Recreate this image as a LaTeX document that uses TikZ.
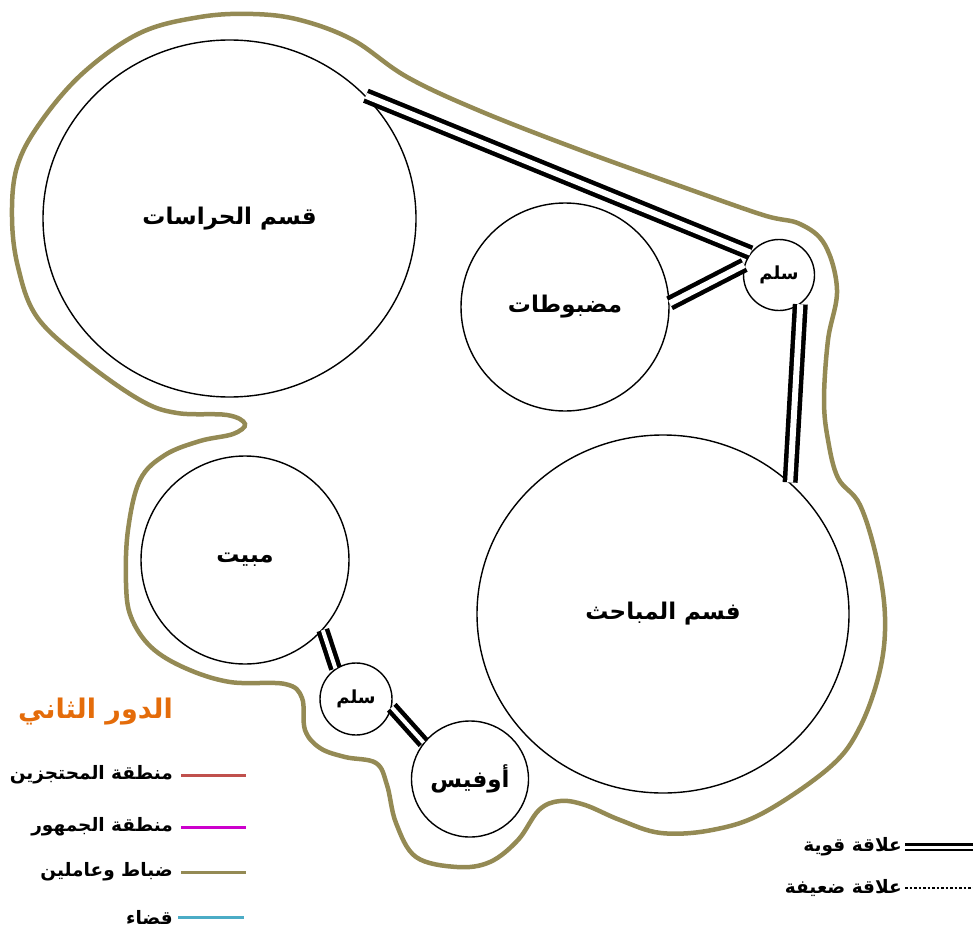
\documentclass[tikz,border=0pt]{standalone}
\usepackage{fontspec}
\usepackage{tikz}
\usetikzlibrary{shapes.geometric}
\newfontfamily\arabicfont[Script=Arabic]{DejaVu Sans}
\TeXXeTstate=1
\definecolor{Boundary}{HTML}{948A54}
\definecolor{FloorTitle}{HTML}{E46C0A}
\definecolor{Detainee}{HTML}{C0504D}
\definecolor{Public}{HTML}{CC00CC}
\definecolor{Judiciary}{HTML}{4BACC6}

\begin{document}
\begin{tikzpicture}[
		x=1pt,y=-1pt,
		room/.style={
			ellipse,
			draw,
			line width=1.4pt,
			inner sep=0pt,
			font=\arabicfont\bfseries\fontsize{23}{27}\selectfont
		},
		stair/.style={
			room,
			font=\arabicfont\bfseries\fontsize{18}{22}\selectfont
		},
		strongrel/.style={
			double,
			double distance=6pt,
			line width=4.5pt
		},
		legendtext/.style={
			anchor=east,
			inner sep=0pt,
			font=\arabicfont\bfseries\fontsize{18.5}{22}\selectfont
		},
		legendline/.style={
			line width=3pt
		}
	]
	\useasboundingbox (0,0) rectangle (973,933);
	
	\draw[Boundary, line width=4.5pt] plot[smooth cycle, tension=0.6] coordinates {
		(227,415) (245,424) (233,434) (200,441) (165,455) (140,480) (128,530)
		(126,583) (131,617) (151,647) (185,668) (230,682) (285,684) (302,698)
		(305,730) (320,748) (345,757) (376,763) (387,785) (396,823) (416,857)
		(457,867) (490,862) (518,840) (539,810) (560,801) (585,805) (620,820)
		(661,833) (712,830) (763,813) (830,767) (860,727) (880,670) (885,617)
		(877,560) (860,505) (838,478) (828,440) (824,400) (828,340) (837,290)
		(825,245) (800,224) (763,215) (680,186) (580,150) (480,111) (407,77)
		(353,40) (300,20) (253,14) (200,17) (140,33) (83,73) (40,123) (17,167)
		(12,217) (18,267) (37,317) (83,360) (140,400) (177,413)
	};
	
	\node[room, minimum width=373pt, minimum height=357pt] (hirasat) at (229.5,218.5) {\beginR قسم الحراسات\endR};
	\node[room, minimum width=208pt, minimum height=208pt] (madbotat) at (565,307) {\beginR مضبوطات\endR};
	\node[stair, minimum width=71pt, minimum height=71pt] (sullamtop) at (779,275) {\beginR سلم\endR};
	\node[room, minimum width=372pt, minimum height=358pt] (mabahith) at (663,614) {\beginR فسم المباحث\endR};
	\node[room, minimum width=208pt, minimum height=208pt] (mabit) at (245,560) {\beginR مبيت\endR};
	\node[stair, minimum width=72pt, minimum height=72pt] (sullambot) at (356,699) {\beginR سلم\endR};
	\node[room, minimum width=117pt, minimum height=116pt] (office) at (470,779) {\beginR أوفيس\endR};
	
	\draw[strongrel] (hirasat.42) -- (sullamtop.142);
	\draw[strongrel] (madbotat.2) -- (sullamtop.164);
	\draw[strongrel] (sullamtop.-54) -- (mabahith.46);
	\draw[strongrel, double distance=4pt] (mabit.-42) -- (sullambot.124);
	\draw[strongrel, double distance=4pt] (sullambot.-13) -- (office.142);
	
	\node[legendtext, text=FloorTitle, font=\arabicfont\bfseries\fontsize{27}{31}\selectfont] (floor) at (173,712) {\beginR الدور الثاني\endR};
	\node[legendtext] (detainees) at (173,775) {\beginR منطقة المحتجزين\endR};
	\node[legendtext] (public) at (173,827) {\beginR منطقة الجمهور\endR};
	\node[legendtext] (staff) at (173,872) {\beginR ضباط وعاملين\endR};
	\node[legendtext] (judiciary) at (173,917) {\beginR قضاء\endR};
	\draw[legendline, Detainee] ([xshift=8pt]detainees.east) -- ++(65,0);
	\draw[legendline, Public] ([xshift=8pt]public.east) -- ++(65,0);
	\draw[legendline, Boundary] ([xshift=8pt]staff.east) -- ++(65,0);
	\draw[legendline, Judiciary] ([xshift=5pt]judiciary.east) -- ++(66,0);
	
	\node[legendtext] (strongkey) at (902,847) {\beginR علاقة قوية\endR};
	\node[legendtext] (weakkey) at (902,888) {\beginR علاقة ضعيفة\endR};
	\draw[double, double distance=3pt, line width=2.5pt] ([xshift=3pt]strongkey.east) -- ++(68,0);
	\draw[line width=2.5pt, dash pattern=on 2.5pt off 2pt] ([xshift=3pt]weakkey.east) -- ++(68,0);
\end{tikzpicture}
\end{document}
